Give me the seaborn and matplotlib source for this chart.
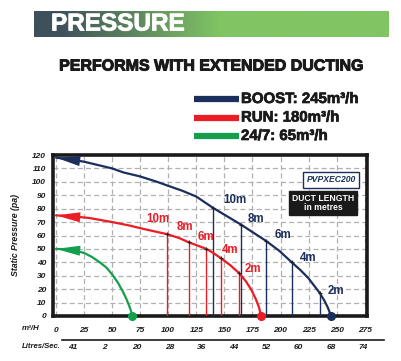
import numpy as np
import matplotlib
matplotlib.use("Agg")
import matplotlib.pyplot as plt
import matplotlib.patheffects as pe
import seaborn as sns
from matplotlib.lines import Line2D

# ----------------------------------------------------------
# Data (x = m3/h, y = static pressure pa)
# ----------------------------------------------------------
boost_x = [0, 10, 25, 40, 50, 60, 75, 90, 100, 112, 125, 140, 152, 165,
           176, 187, 199, 210, 218, 225, 230, 235, 239, 242, 245]
boost_y = [118, 117, 115, 112, 110, 107, 104, 100, 97, 93.5, 89, 80.5, 74.5, 68,
           62, 56, 48.5, 40, 34, 28, 22.5, 17, 11.5, 6.5, 0]

run_x = [0, 15, 30, 50, 65, 80, 99, 110, 118, 126, 134, 140, 147, 155,
         163, 169, 174, 178, 181, 182.5]
run_y = [75, 74.3, 73, 70, 67.5, 64.5, 61, 58, 55, 52.5, 50, 47, 43, 38,
         32, 26, 19.5, 12.5, 6, 0]

quiet_x = [0, 8, 16, 25, 32, 39, 45, 50, 55, 59, 62, 64.5, 66.5, 68]
quiet_y = [50, 49.8, 49, 47, 44, 40, 36, 31, 25, 19, 14, 9, 4.5, 0]

duct_labels = ["10m", "8m", "6m", "4m", "2m"]
boost_duct_x = [140, 165, 187, 210, 235]
boost_duct_y = [80.5, 68, 56, 40, 17]
run_duct_x = [99, 118, 134, 147, 163]
run_duct_y = [61, 55, 50, 43, 32]

m3h_ticks = list(range(0, 276, 25))
pressure_ticks = list(range(0, 121, 10))

litres_minor = [5, 30, 55, 80, 105, 130, 155, 180, 205, 230, 255, 280]
litres_values = [4, 12, 20, 28, 36, 44, 52, 60, 68, 76]
litres_labels = ["41", "2", "20", "28", "36", "44", "52", "60", "68", "74"]

legend_labels = ["BOOST: 245m³/h", "RUN: 180m³/h", "24/7: 65m³/h"]

NAVY = "#1b2f5c"
RED = "#ec1c24"
GREEN = "#12a04c"
INK = "#1a1a1a"

# label offsets (style only)
boost_off = [(19, 6), (13, 4), (15, 4), (15, 3), (14, 2)]
run_off = [(-8, 11), (-3, 11), (0, 9), (8, 6), (12, 3)]

sns.set_theme(style="white")
plt.rcParams["font.family"] = ["Liberation Sans", "DejaVu Sans"]

W, H = 402, 361
fig = plt.figure(figsize=(W / 100, H / 100), dpi=100)
fig.patch.set_facecolor("white")

heavy = [pe.withStroke(linewidth=0.7, foreground=INK)]


def fx(px):
    return px / W


def fy(py):
    return 1 - py / H


# ----------------------------------------------------------
# Banner with gradient
# ----------------------------------------------------------
ban = fig.add_axes([fx(34), fy(37), fx(389 - 34), (37 - 11) / H])
ban.set_axis_off()
c0 = np.array([0x3e, 0x50, 0x5a]) / 255
c1 = np.array([0x80, 0xc4, 0x64]) / 255
cols = np.linspace(0, 1, 400)
t = np.clip((cols * 355 - 25) / 160, 0, 1)
grad = c0[None, :] * (1 - t[:, None]) + c1[None, :] * t[:, None]
ban.imshow(grad[None, :, :], aspect="auto", extent=[0, 1, 0, 1])
ban.set_xlim(0, 1)
ban.set_ylim(0, 1)
fig.text(fx(51), fy(24), "PRESSURE", color="white", fontsize=17.5,
         fontweight="bold", va="center", ha="left",
         path_effects=[pe.withStroke(linewidth=0.6, foreground="white")])

fig.text(fx(212), fy(66), "PERFORMS WITH EXTENDED DUCTING", color=INK,
         fontsize=11.5, fontweight="bold", va="center", ha="center",
         path_effects=heavy)

# legend
for i, (lab, col) in enumerate(zip(legend_labels, [NAVY, RED, GREEN])):
    yy = 99 + i * 18.5
    fig.add_artist(Line2D([fx(194), fx(239)], [fy(yy), fy(yy)], color=col,
                          lw=4.5, solid_capstyle="butt"))
    fig.text(fx(241), fy(yy), lab, color=INK, fontsize=10.8,
             fontweight="bold", va="center", ha="left",
             path_effects=[pe.withStroke(linewidth=0.5, foreground=INK)])

# ----------------------------------------------------------
# Main chart
# ----------------------------------------------------------
ax_l, ax_b, ax_w, ax_h = fx(53), fy(316), fx(367 - 53), (316 - 155) / H
ax = fig.add_axes([ax_l, ax_b, ax_w, ax_h])

# duct length vertical lines
for dx, dy, col in [(boost_duct_x, boost_duct_y, NAVY), (run_duct_x, run_duct_y, RED)]:
    ax.vlines(dx, 0, dy, color=col, lw=1.0, zorder=3)

for xs, ys, col in [(boost_x, boost_y, NAVY), (run_x, run_y, RED), (quiet_x, quiet_y, GREEN)]:
    sns.lineplot(x=xs, y=ys, ax=ax, color=col, lw=1.6, sort=False,
                 estimator=None, zorder=4)
    ax.annotate("", xy=(xs[0], ys[0]), xytext=(xs[2], ys[2]),
                arrowprops=dict(arrowstyle="-|>,head_length=1.45,head_width=0.3",
                                color=col, lw=0, shrinkA=0, shrinkB=0),
                annotation_clip=False, zorder=5)
    ax.plot([xs[-1]], [ys[-1]], "o", color=col, ms=5.5, zorder=6, clip_on=False)

for dx, dy in [(boost_duct_x, boost_duct_y), (run_duct_x, run_duct_y)]:
    ax.plot(dx, dy, "+", color="#222222", ms=3, mew=0.8, zorder=6)

for x, y, lab, (ox, oy) in zip(boost_duct_x, boost_duct_y, duct_labels, boost_off):
    ax.text(x + ox, y + oy, lab, color=NAVY, fontsize=8.3, fontweight="bold",
            ha="center", va="center", zorder=7)
for x, y, lab, (ox, oy) in zip(run_duct_x, run_duct_y, duct_labels, run_off):
    ax.text(x + ox, y + oy, lab, color=RED, fontsize=8.3, fontweight="bold",
            ha="center", va="center", zorder=7)

ax.set_xlim(-2.7, 277)
ax.set_ylim(0, 120)
ax.set_xticks(m3h_ticks, labels=[str(v) for v in m3h_ticks],
              fontstyle="italic", fontweight="bold", color=INK, fontsize=6)
ax.set_yticks(pressure_ticks, labels=[str(v) for v in pressure_ticks],
              fontstyle="italic", fontweight="bold", color=INK, fontsize=6)
ax.grid(True, color="#b0b0b0", lw=0.9, ls=(0, (4, 2.5)))
ax.set_axisbelow(True)
for s in ax.spines.values():
    s.set_color(INK)
    s.set_linewidth(2.6)
ax.tick_params(length=0)
ax.tick_params(axis="y", pad=5)
ax.tick_params(axis="x", pad=8)
ax.set_xlabel("")
ax.set_ylabel("Static Pressure (pa)", fontsize=6.3, fontstyle="italic",
              fontweight="bold", color=INK, labelpad=9)

# model box and duct length box
fig.text(fx(331), fy(180), "PVPXEC200", color=NAVY, fontsize=6.2,
         fontstyle="italic", fontweight="bold", ha="center", va="center",
         bbox=dict(boxstyle="square,pad=0.4", fc="white", ec=NAVY, lw=1))
fig.text(fx(323), fy(203), "DUCT LENGTH\nin metres", color="white", fontsize=6.2,
         fontweight="bold", ha="center", va="center", linespacing=1.1,
         bbox=dict(boxstyle="square,pad=0.35", fc=INK, ec=INK))

# ----------------------------------------------------------
# Litres/Sec scale
# ----------------------------------------------------------
l3, r3 = fx(62), fx(384)
x0, x1 = ax.get_xlim()
lim3 = (x0 + (l3 - ax_l) / ax_w * (x1 - x0), x0 + (r3 - ax_l) / ax_w * (x1 - x0))
ax3 = fig.add_axes([l3, fy(340), r3 - l3, 8 / H])
ax3.patch.set_alpha(0)
ax3.set_xlim(*lim3)
ax3.set_ylim(0, 1)
for k in ["top", "left", "right"]:
    ax3.spines[k].set_visible(False)
ax3.spines["bottom"].set_color(INK)
ax3.spines["bottom"].set_linewidth(1.2)
ax3.set_yticks([])
ax3.set_xticks(litres_minor, labels=[""] * len(litres_minor))
ax3.set_xticks([v * 3.6 for v in litres_values], labels=litres_labels, minor=True,
               fontstyle="italic", fontweight="bold", color=INK, fontsize=6)
ax3.tick_params(axis="x", which="major", direction="in", length=6, width=1,
                color=INK)
ax3.tick_params(axis="x", which="minor", length=0, pad=3)

fig.text(fx(22), fy(329), "m³/H", fontsize=5.8, fontstyle="italic",
         fontweight="bold", color=INK, va="center", ha="left")
fig.text(fx(22), fy(347), "Litres/Sec.", fontsize=5.6, fontstyle="italic",
         fontweight="bold", color=INK, va="center", ha="left")

fig.savefig("out.png", dpi=100)
